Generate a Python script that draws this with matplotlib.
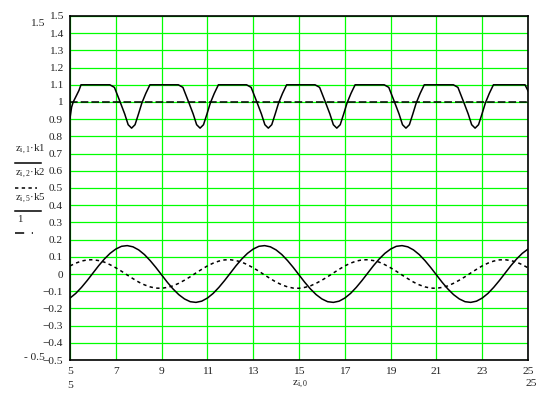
import numpy as np
import matplotlib
matplotlib.use('Agg')
import matplotlib.pyplot as plt
from matplotlib.lines import Line2D

plt.rcParams['font.family'] = ['Liberation Serif', 'DejaVu Serif']
plt.rcParams['mathtext.fontset'] = 'custom'
plt.rcParams['mathtext.rm'] = 'Liberation Serif'
plt.rcParams['font.size'] = 8.2

# z_{i,0}: abscissa, step 0.25 from 5 to 25
x = np.arange(5, 25.001, 0.25)

# z_{i,1}*k1 (solid sine)
s1 = [-0.140, -0.113, -0.078, -0.038, 0.005, 0.048, 0.087, 0.120, 0.145, 0.161, 0.165, 0.158,
      0.140, 0.113, 0.078, 0.038, -0.005, -0.048, -0.087, -0.120, -0.145, -0.161, -0.165, -0.158,
      -0.140, -0.113, -0.078, -0.038, 0.005, 0.048, 0.087, 0.120, 0.145, 0.161, 0.165, 0.158,
      0.140, 0.113, 0.078, 0.038, -0.005, -0.048, -0.087, -0.120, -0.145, -0.161, -0.165, -0.158,
      -0.140, -0.113, -0.078, -0.038, 0.005, 0.048, 0.087, 0.120, 0.145, 0.161, 0.165, 0.158,
      0.140, 0.113, 0.078, 0.038, -0.005, -0.048, -0.087, -0.120, -0.145, -0.161, -0.165, -0.158,
      -0.140, -0.113, -0.078, -0.038, 0.005, 0.048, 0.087, 0.120, 0.145]

# z_{i,2}*k2 (dotted)
s2 = [0.047, 0.063, 0.075, 0.082, 0.083, 0.078, 0.069, 0.054, 0.036, 0.016, -0.006, -0.027,
      -0.047, -0.063, -0.075, -0.082, -0.083, -0.078, -0.069, -0.054, -0.036, -0.016, 0.006, 0.027,
      0.047, 0.063, 0.075, 0.082, 0.083, 0.078, 0.069, 0.054, 0.036, 0.016, -0.006, -0.027,
      -0.047, -0.063, -0.075, -0.082, -0.083, -0.078, -0.069, -0.054, -0.036, -0.016, 0.006, 0.027,
      0.047, 0.063, 0.075, 0.082, 0.083, 0.078, 0.069, 0.054, 0.036, 0.016, -0.006, -0.027,
      -0.047, -0.063, -0.075, -0.082, -0.083, -0.078, -0.069, -0.054, -0.036, -0.016, 0.006, 0.027,
      0.047, 0.063, 0.075, 0.082, 0.083, 0.078, 0.069, 0.054, 0.036]

# z_{i,5}*k5 (plateau at 1.1 with dips)
top_x = [5.0, 5.07, 5.14, 5.29, 5.39, 5.48,
         6.74, 6.94, 7.19, 7.39, 7.54, 7.69, 7.84, 7.99, 8.14, 8.31, 8.49,
         9.73, 9.93, 10.18, 10.38, 10.53, 10.68, 10.83, 10.98, 11.13, 11.30, 11.48,
         12.71, 12.91, 13.16, 13.36, 13.51, 13.66, 13.81, 13.96, 14.11, 14.28, 14.46,
         15.70, 15.90, 16.15, 16.35, 16.50, 16.65, 16.80, 16.95, 17.10, 17.27, 17.45,
         18.72, 18.92, 19.17, 19.37, 19.52, 19.67, 19.82, 19.97, 20.12, 20.29, 20.47,
         21.74, 21.94, 22.19, 22.39, 22.54, 22.69, 22.84, 22.99, 23.14, 23.31, 23.49,
         24.87, 25.0]
top_start = [0.906, 0.97, 1.0, 1.04, 1.067, 1.1]
dip = [1.1, 1.085, 1.0, 0.93, 0.868, 0.848, 0.868, 0.93, 0.995, 1.05, 1.1]
top_end = [1.1, 1.065]
top_y = top_start + dip * 6 + top_end

# constant 1
one_y = [1.0] * len(x)

xticks = list(range(5, 26, 2))
yticks = np.round(np.arange(-0.5, 1.501, 0.1), 1)

W, H = 554, 393
fig = plt.figure(figsize=(W / 100, H / 100), dpi=100)
ax = fig.add_axes([70 / W, 33 / H, 458 / W, 344 / H])

ax.plot(x, s1, color='black', lw=1.1)
ax.plot(x, s2, color='black', lw=1.1, dashes=(2.2, 2.2))
ax.plot(top_x, top_y, color='black', lw=1.1)
ax.plot(x, one_y, color='black', lw=1.1, dashes=(5, 2))

ax.set_xlim(5, 25)
ax.set_ylim(-0.5, 1.5)
ax.set_xticks(xticks)
ax.set_yticks(yticks)
ax.set_xticklabels([str(v) for v in xticks])
ax.set_yticklabels([f'{v + 0.0:g}'.replace('-', '\u2212') if abs(v) > 1e-9 else '0' for v in yticks])
ax.grid(True, color='#00ff00', lw=0.9)
ax.set_axisbelow(True)
ax.tick_params(length=0, pad=5, labelcolor='#222222')
for sp in ax.spines.values():
    sp.set_color('black')
    sp.set_linewidth(1.2)


def fx(px):
    return px / W


def fy(py):
    return 1 - py / H


# axis limit labels (Mathcad style)
fig.text(fx(45), fy(24), '1.5', ha='right', va='center', color='#222222')
fig.text(fx(45), fy(357), '- 0.5', ha='right', va='center', color='#222222')
fig.text(fx(70), fy(385), '5', ha='center', va='center', color='#222222')
fig.text(fx(531), fy(384), '25', ha='center', va='center', color='#222222')
fig.text(fx(300), fy(384), r'$\mathregular{z_{i,0}}$', ha='center', va='center', color='#222222')

# legend on the left
fs = 7.8
fig.text(fx(15), fy(149), r'$\mathregular{z_{i,1}}$·k1', ha='left', va='center', color='#222222', fontsize=fs)
fig.add_artist(Line2D([fx(15), fx(41)], [fy(163), fy(163)], color='black', lw=1.1))
fig.text(fx(15), fy(173), r'$\mathregular{z_{i,2}}$·k2', ha='left', va='center', color='#222222', fontsize=fs)
fig.add_artist(Line2D([fx(15), fx(37)], [fy(188), fy(188)], color='black', lw=1.1, dashes=(2.2, 2.2)))
fig.text(fx(15), fy(198), r'$\mathregular{z_{i,5}}$·k5', ha='left', va='center', color='#222222', fontsize=fs)
fig.add_artist(Line2D([fx(15), fx(41)], [fy(211), fy(211)], color='black', lw=1.1))
fig.text(fx(17), fy(220), '1', ha='left', va='center', color='#222222', fontsize=fs)
fig.add_artist(Line2D([fx(15), fx(33)], [fy(233), fy(233)], color='black', lw=1.1, dashes=(6, 5, 2, 2)))

plt.savefig('out.png', dpi=100)
